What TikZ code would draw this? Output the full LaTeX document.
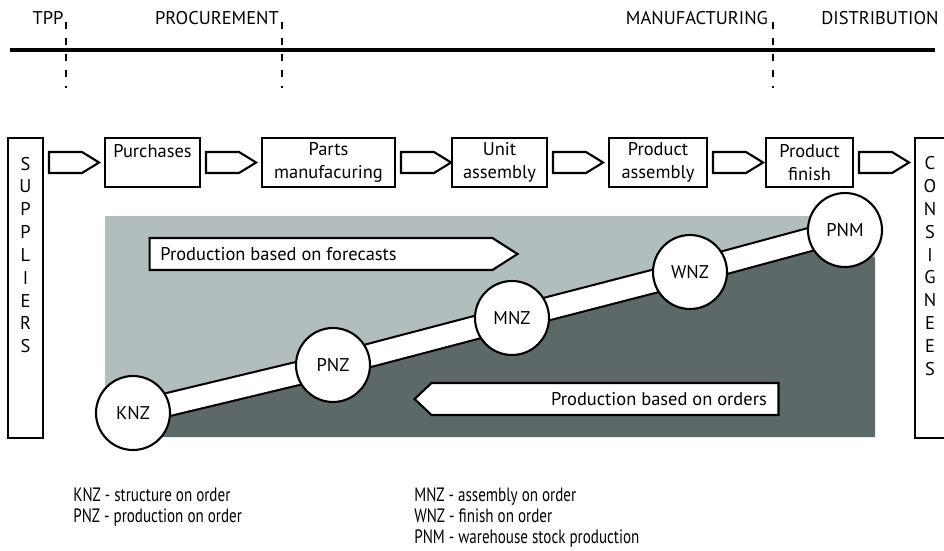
\documentclass[tikz,border=0pt]{standalone}
\usepackage{fontspec}
\setmainfont{PT Sans}
\newfontfamily\keyfont[FakeStretch=0.78]{PT Sans}
\usetikzlibrary{shapes}
\usetikzlibrary{positioning,calc}
\definecolor{lightslate}{RGB}{178,190,190}
\definecolor{darkslate}{RGB}{93,105,105}

\begin{document}
\begin{tikzpicture}[x=0.02cm, y=0.02cm]
		\tikzstyle{every node}+=[inner sep=0pt, font=\fontsize{10.5}{13}\selectfont]
		\tikzstyle{stepbox}=[draw=black, line width=1.2pt, fill=white, minimum height=0.98cm, align=center]
		\tikzstyle{sidebox}=[draw=black, line width=1.2pt, minimum width=0.7cm, minimum height=6cm]
		\tikzstyle{letters}=[align=center, font=\fontsize{10.5}{13}\selectfont]
		\tikzstyle{flow}=[draw=black, line width=1.2pt, fill=white, line join=miter]
		\tikzstyle{bigflow}=[draw=black, line width=1.2pt, fill=white, signal, minimum height=0.64cm]
		\tikzstyle{stage}=[draw=black, line width=1.2pt, fill=white, circle, minimum size=1.48cm]
		\tikzstyle{band}=[draw=black, line width=1.2pt, double=white, double distance=0.42cm]
		\tikzstyle{phase}=[draw=black, line width=1.2pt, dash pattern=on 3.8pt off 5.3pt]
		\tikzstyle{legend}=[anchor=north west, align=left, font=\keyfont\fontsize{11}{12.2}\selectfont]
		\useasboundingbox (0,0) rectangle (944,-551);
		% time line
		\draw [black, line width=1.8pt] (10,-50) -- (935,-50);
		\draw [phase] (66,-22) -- (66,-88);
		\draw [phase] (282,-22) -- (282,-88);
		\draw [phase] (773,-22) -- (773,-88);
		\node (tpp) at (48,-18) {TPP};
		\node (proc) at (217,-18) {PROCUREMENT};
		\node (manu) at (697,-18) {MANUFACTURING};
		\node (dist) at (880,-18) {DISTRIBUTION};
		% shaded field
		\fill [lightslate] (105,-216) rectangle (875,-437);
		\fill [darkslate] (105,-437) -- (105,-433) -- (845,-243) -- (875,-258) -- (875,-437) -- cycle;
		% chain of stages
		\coordinate (k) at (133,-413);
		\coordinate (p) at (333,-365);
		\coordinate (m) at (512,-318);
		\coordinate (w) at (690,-272);
		\coordinate (q) at (845,-230);
		\draw [band] (k) -- (p) -- (m) -- (w) -- (q);
		\node [stage] (KNZ) at (k) {KNZ};
		\node [stage] (PNZ) at (p) {PNZ};
		\node [stage] (MNZ) at (m) {MNZ};
		\node [stage] (WNZ) at (w) {WNZ};
		\node [stage] (PNM) at (q) {PNM};
		\node [bigflow, signal to=east, minimum width=7.36cm, signal pointer angle=65] (fore) at (321,-254) {};
		\node [anchor=west] (foretext) at (160,-254) {Production based on forecasts};
		\node [bigflow, signal to=west, minimum width=7.28cm, signal pointer angle=87] (ord) at (605,-399) {};
		\node (ordtext) at (659,-399) {Production based on orders};
		% process row
		\node [sidebox] (sup) at (25.5,-288) {};
		\node [letters] (suptext) at (25.5,-255) {S\\U\\P\\P\\L\\I\\E\\R\\S};
		\node [stepbox, minimum width=1.9cm] (pur) at (152.5,-162.5) {Purchases\\~};
		\node [stepbox, minimum width=2.66cm] (par) at (328.5,-162.5) {Parts\\manufacuring};
		\node [stepbox, minimum width=1.9cm] (uni) at (499.5,-162.5) {Unit\\assembly};
		\node [stepbox, minimum width=1.96cm] (pro) at (658,-162.5) {Product\\assembly};
		\node [stepbox, minimum width=1.74cm] (fin) at (809.5,-162.5) {Product\\finish};
		\node [sidebox] (con) at (932.5,-288) {};
		\node [letters] (context) at (930,-266) {C\\O\\N\\S\\I\\G\\N\\E\\E\\S};
		\foreach \from in {sup,pur,par,uni,pro,fin}
			\draw [flow] ($(\from.east|-pur.east)+(5,10.5)$) -- ++(33,0) -- ++(17,-10.5) -- ++(-17,-10.5) -- ++(-33,0) -- cycle;
		% key
		\node [legend] (keyleft) at (73,-487) {KNZ - structure on order\\PNZ - production on order};
		\node [legend] (keyright) at (414,-487) {MNZ - assembly on order\\WNZ - finish on order\\PNM - warehouse stock production};
		\end{tikzpicture}
\end{document}
